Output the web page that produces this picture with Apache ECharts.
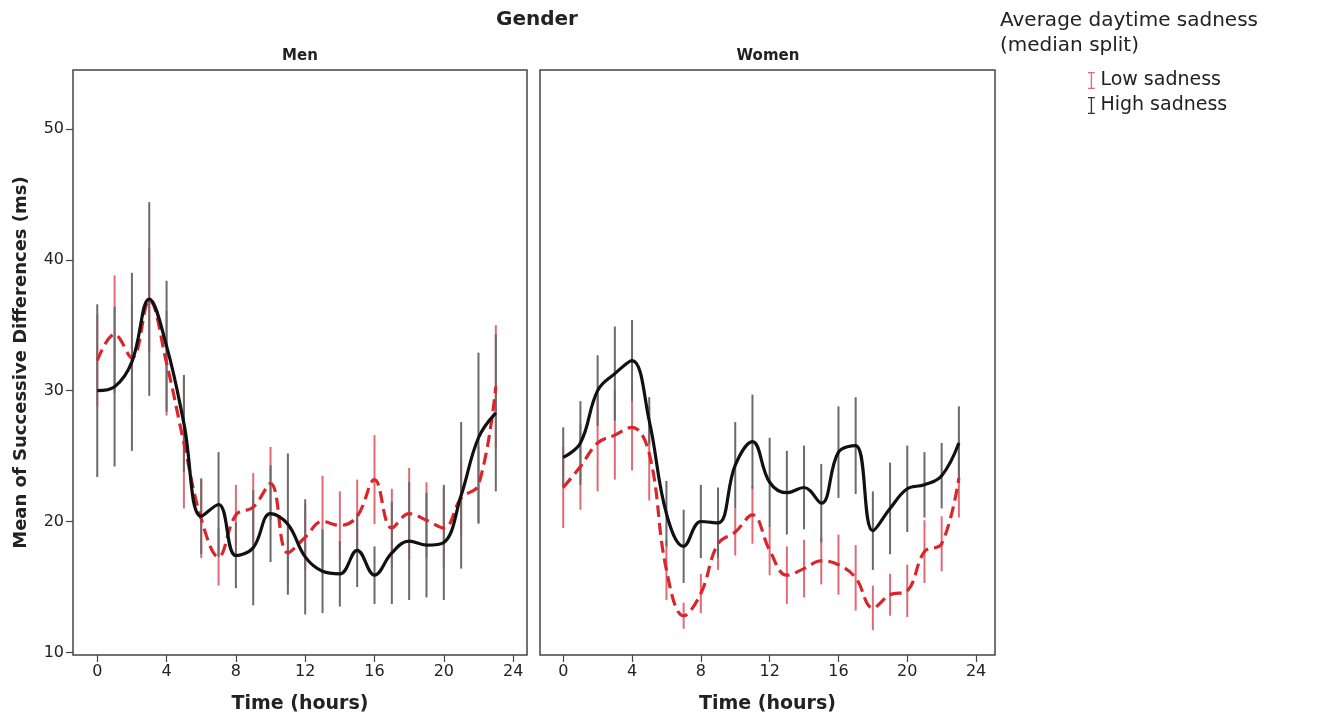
<!DOCTYPE html>
<html lang="en">
<head>
    <meta charset="UTF-8">
    <title>RMSSD by hour</title>
    <script src="https://cdn.jsdelivr.net/npm/echarts@6/dist/echarts.min.js"></script>
    <style>
        html, body { margin: 0; padding: 0; background: #fff; }
        #main { width: 1317px; height: 724px; }
    </style>
</head>
<body>
    <div id="main"></div>
    <script type="text/javascript">
        // data
        var hours = [0, 1, 2, 3, 4, 5, 6, 7, 8, 9, 10, 11, 12, 13, 14, 15, 16, 17, 18, 19, 20, 21, 22, 23];
        var xTicks = [0, 4, 8, 12, 16, 20, 24];
        var yTicks = [10, 20, 30, 40, 50];

        // men
        var menLowMean = [32.3, 34.3, 32.5, 36.9, 32.1, 26.0, 20.2, 17.3, 20.5, 21.1, 22.9, 17.6, 18.8, 20.0, 19.7, 20.4, 23.2, 19.5, 20.6, 20.1, 19.5, 21.8, 22.8, 30.3];
        var menLowCi = [3.5, 4.5, 4.0, 4.0, 4.0, 5.0, 3.0, 2.2, 2.3, 2.6, 2.8, 2.5, 2.5, 3.5, 2.6, 2.8, 3.4, 3.0, 3.5, 2.9, 3.0, 3.0, 3.0, 4.7];
        var menHighMean = [30.0, 30.3, 32.2, 37.0, 33.4, 27.5, 20.4, 21.3, 17.4, 18.0, 20.6, 19.8, 17.3, 16.2, 16.0, 17.8, 15.9, 17.6, 18.5, 18.2, 18.4, 22.0, 26.4, 28.3];
        var menHighCi = [6.6, 6.1, 6.8, 7.4, 5.0, 3.7, 2.9, 4.0, 2.5, 4.4, 3.7, 5.4, 4.4, 3.2, 2.5, 2.8, 2.2, 3.9, 4.5, 4.0, 4.4, 5.6, 6.5, 6.0];

        // women
        var womenLowMean = [22.6, 24.2, 26.0, 26.6, 27.2, 25.2, 16.3, 12.8, 14.5, 18.3, 19.2, 20.5, 17.8, 15.9, 16.4, 17.0, 16.7, 15.7, 13.4, 14.4, 14.7, 17.7, 18.3, 23.3];
        var womenLowCi = [3.1, 3.3, 3.7, 3.4, 3.3, 3.6, 2.3, 1.0, 1.5, 2.0, 1.8, 2.2, 1.9, 2.2, 2.2, 1.8, 2.3, 2.5, 1.7, 1.6, 2.0, 2.4, 2.1, 3.0];
        var womenHighMean = [24.9, 26.0, 30.0, 31.3, 32.3, 27.7, 20.6, 18.1, 20.0, 19.9, 24.3, 26.1, 23.0, 22.2, 22.6, 21.4, 25.3, 25.8, 19.3, 21.0, 22.5, 22.8, 23.5, 26.0];
        var womenHighCi = [2.3, 3.2, 2.7, 3.6, 3.1, 1.8, 2.5, 2.8, 2.8, 2.7, 3.3, 3.6, 3.4, 3.2, 3.2, 3.0, 3.5, 3.7, 3.0, 3.5, 3.3, 2.5, 2.5, 2.8];

        var redLine = '#d9262c';
        var redBar = '#df6b76';
        var greyBar = '#6a6a6a';
        var font = 'DejaVu Sans';

        var chart = echarts.init(document.getElementById('main'));

        function barData(mean, ci) {
            return hours.map(function (h, i) { return [h, mean[i] - ci[i], mean[i] + ci[i]]; });
        }
        function lineData(mean) {
            return hours.map(function (h, i) { return [h, mean[i]]; });
        }
        // error bar, plain vertical stroke
        function errorBars(name, idx, mean, ci, color) {
            return {
                name: name,
                type: 'custom',
                xAxisIndex: idx,
                yAxisIndex: idx,
                encode: { x: 0, y: [1, 2] },
                data: barData(mean, ci),
                silent: true,
                renderItem: function (params, api) {
                    var p1 = api.coord([api.value(0), api.value(1)]);
                    var p2 = api.coord([api.value(0), api.value(2)]);
                    return {
                        type: 'line',
                        shape: { x1: p1[0], y1: p1[1], x2: p2[0], y2: p2[1] },
                        style: { stroke: color, lineWidth: 2 }
                    };
                }
            };
        }
        function curve(name, idx, mean, color, dashed) {
            return {
                name: name,
                type: 'line',
                xAxisIndex: idx,
                yAxisIndex: idx,
                data: lineData(mean),
                smooth: 0.4,
                symbol: 'none',
                silent: true,
                lineStyle: { color: color, width: 3.2, type: dashed ? [12, 6] : 'solid' }
            };
        }
        function xAxis(idx, min, max) {
            return {
                gridIndex: idx,
                type: 'value',
                min: min,
                max: max,
                splitLine: { show: false },
                axisLine: { show: false, onZero: false },
                axisTick: { show: true, customValues: xTicks, length: 7, lineStyle: { color: '#444', width: 1.2 } },
                axisLabel: { customValues: xTicks, fontSize: 16, color: '#222', margin: 9, fontFamily: font },
                name: 'Time (hours)',
                nameLocation: 'middle',
                nameGap: 40,
                nameTextStyle: { fontSize: 19, fontWeight: 'bold', color: '#222', fontFamily: font }
            };
        }
        function yAxis(idx, showLabels) {
            return {
                gridIndex: idx,
                type: 'value',
                min: 9.8,
                max: 54.5,
                splitLine: { show: false },
                axisLine: { show: false, onZero: false },
                axisTick: { show: showLabels, customValues: yTicks, length: 7, lineStyle: { color: '#444', width: 1.2 } },
                axisLabel: { show: showLabels, customValues: yTicks, fontSize: 16, color: '#222', margin: 9, fontFamily: font },
                name: showLabels ? 'Mean of Successive Differences (ms)' : '',
                nameLocation: 'middle',
                nameGap: 43,
                nameTextStyle: { fontSize: 18, fontWeight: 'bold', color: '#222', fontFamily: font }
            };
        }

        var option = {
            animation: false,
            textStyle: { fontFamily: font },
            grid: [
                { left: 73, top: 70, width: 454, height: 585, show: true, borderColor: '#444', borderWidth: 1.5 },
                { left: 540, top: 70, width: 455, height: 585, show: true, borderColor: '#444', borderWidth: 1.5 }
            ],
            xAxis: [xAxis(0, -1.4, 24.8), xAxis(1, -1.35, 25.1)],
            yAxis: [yAxis(0, true), yAxis(1, false)],
            legend: {
                orient: 'vertical',
                left: 1083,
                top: 66,
                itemWidth: 8,
                itemHeight: 17,
                itemGap: 6,
                icon: 'path://M0,0H8V1.6H4.8V18.4H8V20H0V18.4H3.2V1.6H0Z',
                textStyle: { fontSize: 19, color: '#222', fontFamily: font },
                data: [
                    { name: 'Low sadness', itemStyle: { color: redBar } },
                    { name: 'High sadness', itemStyle: { color: '#333' } }
                ]
            },
            graphic: [
                { type: 'text', x: 537, y: 20, style: { text: 'Gender', font: 'bold 20px DejaVu Sans', fill: '#222', textAlign: 'center', textVerticalAlign: 'middle' } },
                { type: 'text', x: 300, y: 56, style: { text: 'Men', font: 'bold 15px DejaVu Sans', fill: '#222', textAlign: 'center', textVerticalAlign: 'middle' } },
                { type: 'text', x: 768, y: 56, style: { text: 'Women', font: 'bold 15px DejaVu Sans', fill: '#222', textAlign: 'center', textVerticalAlign: 'middle' } },
                { type: 'text', x: 1000, y: 21, style: { text: 'Average daytime sadness', font: '20px DejaVu Sans', fill: '#222', textAlign: 'left', textVerticalAlign: 'middle' } },
                { type: 'text', x: 1000, y: 46, style: { text: '(median split)', font: '20px DejaVu Sans', fill: '#222', textAlign: 'left', textVerticalAlign: 'middle' } }
            ],
            series: [
                errorBars('Low sadness', 0, menLowMean, menLowCi, redBar),
                errorBars('High sadness', 0, menHighMean, menHighCi, greyBar),
                curve('Low sadness', 0, menLowMean, redLine, true),
                curve('High sadness', 0, menHighMean, '#111', false),
                errorBars('Low sadness', 1, womenLowMean, womenLowCi, redBar),
                errorBars('High sadness', 1, womenHighMean, womenHighCi, greyBar),
                curve('Low sadness', 1, womenLowMean, redLine, true),
                curve('High sadness', 1, womenHighMean, '#111', false)
            ]
        };
        chart.setOption(option);
    </script>
</body>
</html>
